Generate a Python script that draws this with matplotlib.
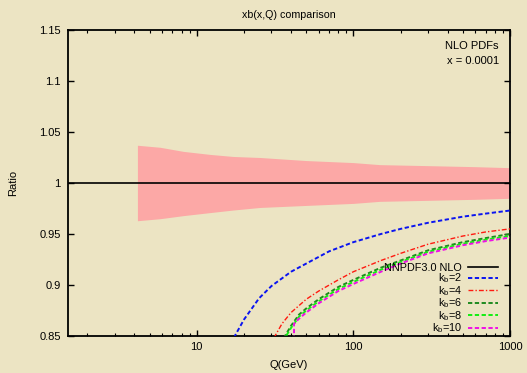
import numpy as np
import matplotlib
matplotlib.use("Agg")
import matplotlib.pyplot as plt
from matplotlib.ticker import FixedLocator, FormatStrFormatter, NullFormatter, LogLocator

# -------------------------------------------------------------------
# DATA
# -------------------------------------------------------------------
# NNPDF3.0 NLO reference (central = 1) and its uncertainty band
q_ref = [1.5, 1000.0]
ratio_ref = [1.0, 1.0]

q_band = [4.18, 5.84, 8.2, 12.2, 17.1, 25.3, 50, 100, 147, 300, 600, 1000]
band_hi = [1.037, 1.035, 1.031, 1.028, 1.026, 1.025, 1.022, 1.020, 1.018, 1.017, 1.016, 1.015]
band_lo = [0.963, 0.965, 0.968, 0.971, 0.9735, 0.976, 0.978, 0.980, 0.982, 0.983, 0.984, 0.985]

# k_b variations
q_kb2 = [16.7, 17.5, 20, 25, 30, 40, 50, 70, 100, 150, 200, 300, 500, 700, 1000]
r_kb2 = [0.835, 0.85, 0.866, 0.887, 0.899, 0.913, 0.921, 0.933, 0.942, 0.950, 0.955, 0.961, 0.967, 0.970, 0.973]

q_kb4 = [30, 31.6, 35, 40, 50, 60, 80, 100, 150, 200, 300, 500, 700, 1000]
r_kb4 = [0.838, 0.85, 0.862, 0.873, 0.886, 0.894, 0.905, 0.913, 0.924, 0.931, 0.940, 0.948, 0.952, 0.955]

q_kb6 = [34, 36.6, 40, 45, 50, 60, 80, 100, 150, 200, 300, 500, 700, 1000]
r_kb6 = [0.835, 0.85, 0.860, 0.871, 0.877, 0.886, 0.898, 0.905, 0.917, 0.924, 0.934, 0.942, 0.946, 0.950]

q_kb8 = [35, 37.2, 40, 45, 50, 60, 80, 100, 150, 200, 300, 500, 700, 1000]
r_kb8 = [0.838, 0.85, 0.858, 0.869, 0.875, 0.884, 0.896, 0.903, 0.915, 0.9225, 0.9325, 0.9405, 0.9445, 0.948]

q_kb10 = [41.8, 41.8, 45, 50, 60, 80, 100, 150, 200, 300, 500, 700, 1000]
r_kb10 = [0.80, 0.862, 0.867, 0.873, 0.882, 0.894, 0.901, 0.913, 0.921, 0.931, 0.939, 0.943, 0.9465]

y_ticks = [0.85, 0.9, 0.95, 1.0, 1.05, 1.1, 1.15]
x_ticks = [10, 100, 1000]

# -------------------------------------------------------------------
# STYLE
# -------------------------------------------------------------------
BG = "#ece4c3"
plt.rcParams["font.family"] = ["Liberation Sans", "DejaVu Sans"]
plt.rcParams["mathtext.fontset"] = "custom"
plt.rcParams["mathtext.rm"] = "Liberation Sans"
plt.rcParams["mathtext.it"] = "Liberation Sans"

fig = plt.figure(figsize=(5.27, 3.73), dpi=100, facecolor=BG)
ax = fig.add_axes([0.1285, 0.0992, 0.8392, 0.8204])
ax.set_facecolor(BG)

# band + reference
ax.fill_between(q_band, band_lo, band_hi, color="#fca8a6", lw=0, zorder=1)
ax.plot(q_ref, ratio_ref, color="black", lw=1.2, label="NNPDF3.0 NLO", zorder=3)

curves = [
    (q_kb2, r_kb2, "#0a14f0", (0, (2.2, 1.3)), r"k$_\mathrm{b}$=2"),
    (q_kb4, r_kb4, "#ff1a10", (0, (3.5, 1.5, 1, 1.5)), r"k$_\mathrm{b}$=4"),
    (q_kb6, r_kb6, "#1f8a1f", (0, (2.2, 1.3)), r"k$_\mathrm{b}$=6"),
    (q_kb8, r_kb8, "#12ee12", (0, (2.2, 1.3)), r"k$_\mathrm{b}$=8"),
    (q_kb10, r_kb10, "#f010e6", (0, (2.2, 1.3)), r"k$_\mathrm{b}$=10"),
]
for q, r, c, ls, lab in curves:
    lw = 1.0 if lab.endswith("=4") else 1.4
    ax.plot(q, r, color=c, ls=ls, lw=lw, label=lab, zorder=4)

ax.set_xscale("log")
ax.set_xlim(1.5, 1000)
ax.set_ylim(0.85, 1.15)

ax.xaxis.set_major_locator(FixedLocator(x_ticks))
ax.xaxis.set_minor_locator(LogLocator(base=10, subs=np.arange(2, 10)))
ax.xaxis.set_minor_formatter(NullFormatter())
ax.xaxis.set_major_formatter(FormatStrFormatter("%g"))
ax.yaxis.set_major_locator(FixedLocator(y_ticks))
ax.yaxis.set_major_formatter(FormatStrFormatter("%g"))

ax.tick_params(which="both", direction="in", top=True, right=True, labelsize=8, colors="black")
ax.tick_params(which="major", length=4, width=1.0, pad=4)
ax.tick_params(which="minor", length=2.3, width=0.8)
ax.tick_params(axis="y", pad=5)
for s in ax.spines.values():
    s.set_linewidth(1.3)

ax.text(0.5, 1.05, "xb(x,Q) comparison", transform=ax.transAxes,
        ha="center", va="center", fontsize=7.7)
ax.set_xlabel("Q(GeV)", fontsize=8)
ax.xaxis.set_label_coords(0.5, -0.078)
ax.set_ylabel("Ratio", fontsize=8)
ax.yaxis.set_label_coords(-0.112, 0.5)

ax.text(0.975, 0.948, "NLO PDFs", transform=ax.transAxes, ha="right", va="center", fontsize=8)
ax.text(0.975, 0.899, "x = 0.0001", transform=ax.transAxes, ha="right", va="center", fontsize=8)

leg = ax.legend(loc="lower right", bbox_to_anchor=(0.972, 0.002), frameon=False,
                markerfirst=False, fontsize=7.8, handlelength=2.7, handletextpad=0.6,
                labelspacing=-0.12, borderpad=0.0, borderaxespad=0.0)

fig.savefig("out.png", dpi=100, facecolor=BG)
